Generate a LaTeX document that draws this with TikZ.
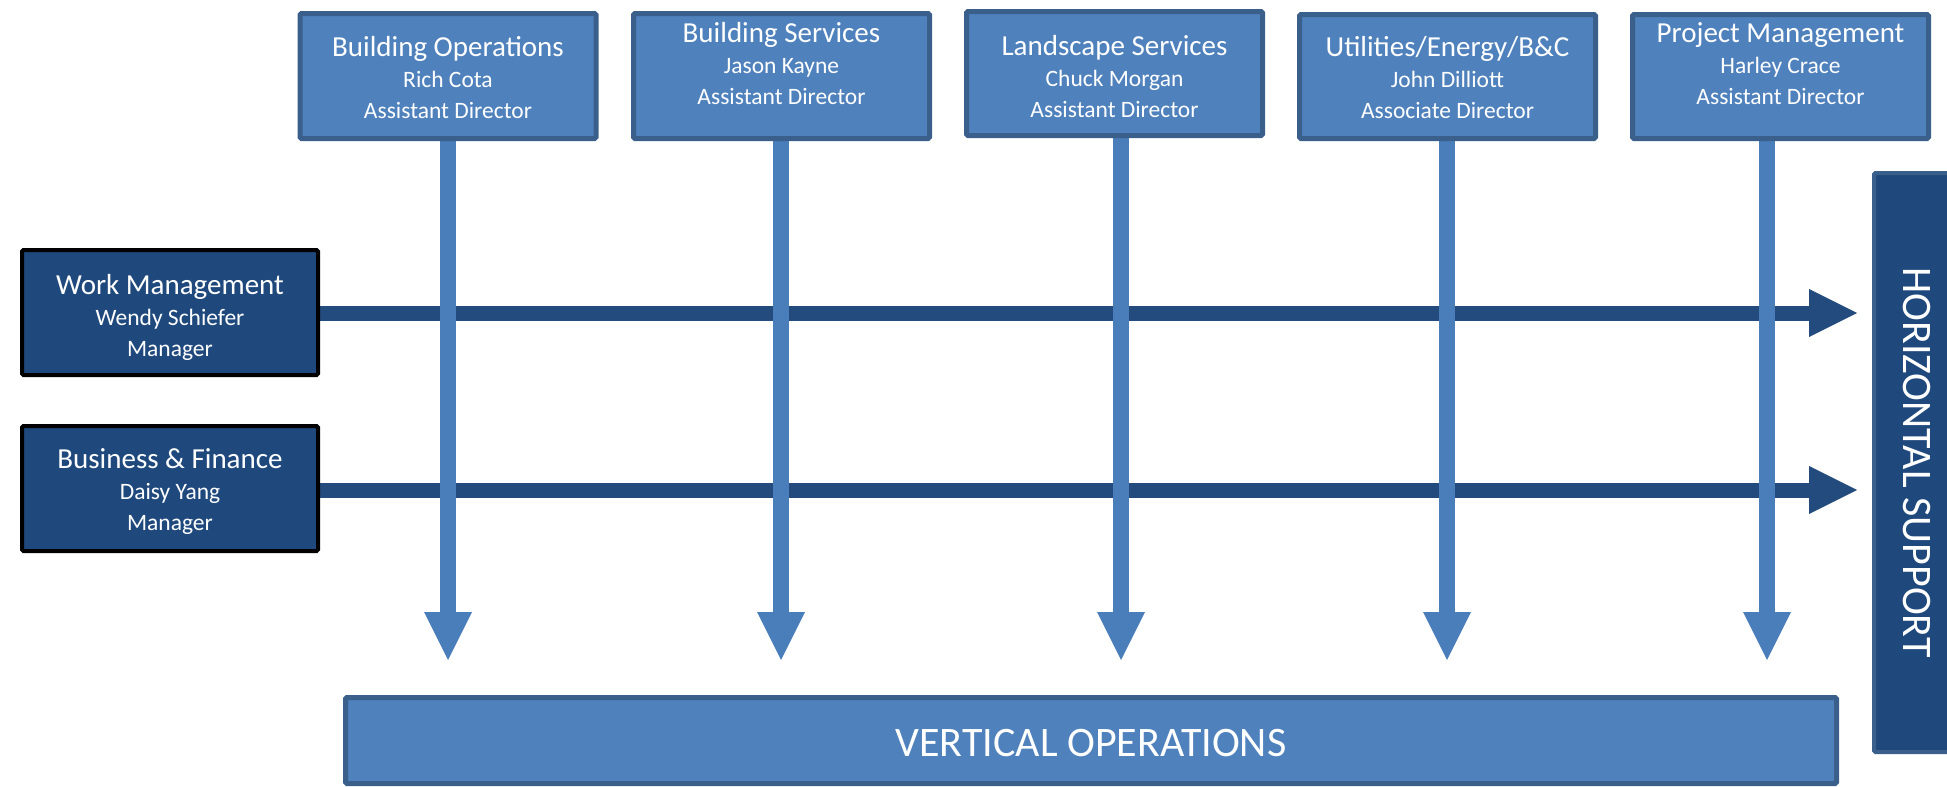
\documentclass[tikz,border=0pt]{standalone}
\usepackage{fontspec}
\setmainfont{Carlito}
\usetikzlibrary{arrows.meta}
\definecolor{lightfill}{HTML}{4F81BD}
\definecolor{lightedge}{HTML}{3A5F8B}
\definecolor{darkfill}{HTML}{1F497D}
\definecolor{darkedge}{HTML}{3A5F8B}
\definecolor{varrowc}{HTML}{4A7EBB}
\definecolor{harrowc}{HTML}{234B7E}
\newcommand\bxtitle{\fontsize{29}{31}\selectfont}
\pgfdeclarelayer{bg}
\pgfsetlayers{bg,main}
\begin{document}
\begin{tikzpicture}[x=1pt,y=-1pt,
  topbox/.style={draw=lightedge, fill=lightfill, line width=5pt, minimum width=296pt, minimum height=125pt, inner sep=0pt, rounded corners=1.5pt},
  sidebox/.style={draw=black, fill=darkfill, line width=4pt, minimum width=296pt, minimum height=125pt, inner sep=0pt, rounded corners=1.5pt},
  boxtext/.style={text=white, align=center, font=\fontsize{23.5}{31}\selectfont, inner sep=0pt},
  bigtext/.style={text=white, font=\fontsize{42}{48}\selectfont},
  varr/.style={draw=varrowc, fill=varrowc, line width=16pt, -{Triangle[length=48pt,width=48pt,line width=0pt]}},
  harr/.style={draw=harrowc, fill=harrowc, line width=15pt, -{Triangle[length=48pt,width=48pt,line width=0pt]}}
]
\useasboundingbox (0,0) rectangle (1947,787);

% top boxes
\node[topbox] (bo) at (448,76) {};
\node[topbox] (bs) at (781.5,76) {};
\node[topbox, minimum height=124pt] (ls) at (1114.5,73.5) {};
\node[topbox, minimum height=124pt] (ut) at (1447.5,76.5) {};
\node[topbox, minimum height=124pt] (pm) at (1780.5,76.5) {};

\node[boxtext] (bo-t) at (448,78) {{\bxtitle Building Operations}\\Rich Cota\\Assistant Director};
\node[boxtext] (bs-t) at (781.5,64) {{\bxtitle Building Services}\\Jason Kayne\\Assistant Director};
\node[boxtext] (ls-t) at (1114.5,76.5) {{\bxtitle Landscape Services}\\Chuck Morgan\\Assistant Director};
\node[boxtext] (ut-t) at (1447.5,78) {{\bxtitle Utilities/Energy/B\&C}\\John Dilliott\\Associate Director};
\node[boxtext] (pm-t) at (1780.5,64) {{\bxtitle Project Management}\\Harley Crace\\Assistant Director};

% left boxes
\node[sidebox] (wm) at (170,312.5) {};
\node[sidebox] (bf) at (170,488.5) {};
\node[boxtext] (wm-t) at (170,317) {{\bxtitle Work Management}\\Wendy Schiefer\\Manager};
\node[boxtext] (bf-t) at (170,492) {{\bxtitle Business \& Finance}\\Daisy Yang\\Manager};

% bottom and right boxes
\node[topbox, minimum width=1491pt, minimum height=86pt, bigtext, text height=33pt] (vo) at (1091,740.5) {VERTICAL OPERATIONS};
\node[draw=darkedge, fill=darkfill, line width=4pt, rounded corners=1.5pt, inner sep=0pt,
      minimum width=579pt, minimum height=86pt, rotate=-90, bigtext] (hs) at (1917,462.5) {HORIZONTAL SUPPORT};

% arrow tips
\coordinate (wm-tip) at (1857,313);
\coordinate (bf-tip) at (1857,490);
\coordinate (bo-tip) at (448,660);
\coordinate (bs-tip) at (781,660);
\coordinate (ls-tip) at (1121,660);
\coordinate (ut-tip) at (1447,660);
\coordinate (pm-tip) at (1767,660);

\begin{pgfonlayer}{bg}
\draw[harr] (wm.east |- wm-tip) -- (wm-tip);
\draw[harr] (bf.east |- bf-tip) -- (bf-tip);
\draw[varr] (bo.south -| bo-tip) -- (bo-tip);
\draw[varr] (bs.south -| bs-tip) -- (bs-tip);
\draw[varr] (ls.south -| ls-tip) -- (ls-tip);
\draw[varr] (ut.south -| ut-tip) -- (ut-tip);
\draw[varr] (pm.south -| pm-tip) -- (pm-tip);
\end{pgfonlayer}
\end{tikzpicture}
\end{document}
